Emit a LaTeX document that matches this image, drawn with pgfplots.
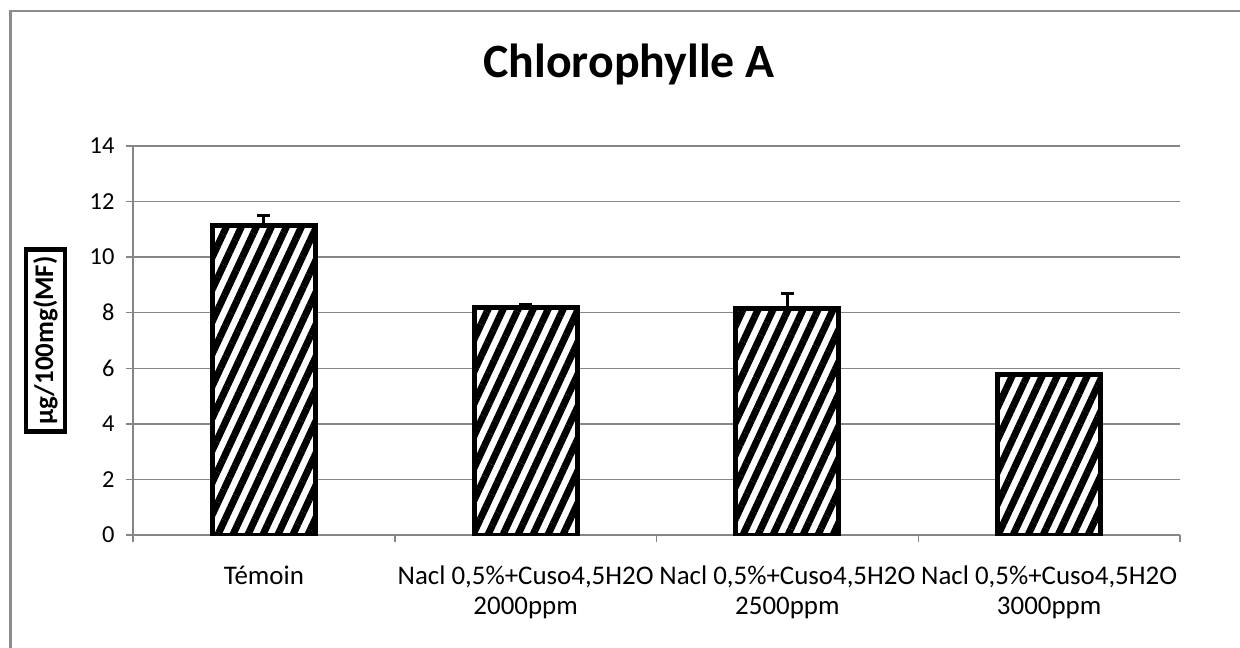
\documentclass[border=0pt]{standalone}
\usepackage{fontspec}
\setmainfont{Carlito}
\usepackage{pgfplots}
\pgfplotsset{compat=1.18}
\usetikzlibrary{patterns.meta}
\definecolor{gridgray}{HTML}{868686}
\definecolor{framegray}{HTML}{8C8C8C}

\begin{document}
\begin{tikzpicture}[x=1bp,y=1bp]
\useasboundingbox (0,0) rectangle (1240,-648);
% chart frame: only its top and left sides fall inside the picture
\fill[framegray] (9.25,-9.75) rectangle (1240,-12.25);
\fill[framegray] (9.25,-9.75) rectangle (11.75,-648);
\node[font=\fontsize{48}{56}\selectfont\bfseries, anchor=base] at (629,-78) {Chlorophylle A};
\begin{axis}[
  at={(133bp,-535bp)}, anchor=south west,
  scale only axis, width=1047bp, height=389bp,
  xmin=-0.5, xmax=3.5, ymin=0, ymax=14,
  ytick distance=2, ymajorgrids, grid style={gridgray, line width=1.5bp},
  axis x line*=bottom, axis y line*=left,
  axis line style={gridgray, line width=1.5bp, -},
  tick align=outside, major tick length=7bp, minor tick length=7bp,
  tick style={gridgray, line width=1.5bp},
  xtick={0,1,2,3}, minor xtick={-0.5,0.5,1.5,2.5,3.5},
  major x tick style={draw=none},
  xticklabels={T\'emoin, {Nacl 0,5\%+Cuso4,5H2O\\2000ppm}, {Nacl 0,5\%+Cuso4,5H2O\\2500ppm}, {Nacl 0,5\%+Cuso4,5H2O\\3000ppm}},
  xticklabel style={align=center, font=\fontsize{27}{30}\selectfont, anchor=north, yshift=-20bp},
  yticklabel style={font=\fontsize{24.5}{30}\selectfont, xshift=-8bp},
  /pgf/number format/assume math mode=true,
  ylabel={µg/100mg(MF)},
  ylabel style={at={(rel axis cs:0,0.5)}, anchor=south, yshift=66bp, draw=black, line width=4.5bp,
    font=\fontsize{27}{30}\selectfont\bfseries, inner sep=7bp},
]
\addplot[ybar, bar width=103bp, draw=black, line width=5bp, fill=white,
  postaction={pattern={Lines[angle=65, distance=13.6bp, line width=7bp]}},
  error bars/.cd, y dir=plus, y explicit,
  error bar style={black, line width=3bp},
  error mark options={black, line width=3bp, mark size=6.5bp, rotate=90}]
  coordinates {
  (0,11.14) +- (0,0.35)
  (1,8.17) +- (0,0.12)
  (2,8.15) +- (0,0.55)
  (3,5.76) +- (0,0.0)
};
\end{axis}
\end{tikzpicture}
\end{document}
